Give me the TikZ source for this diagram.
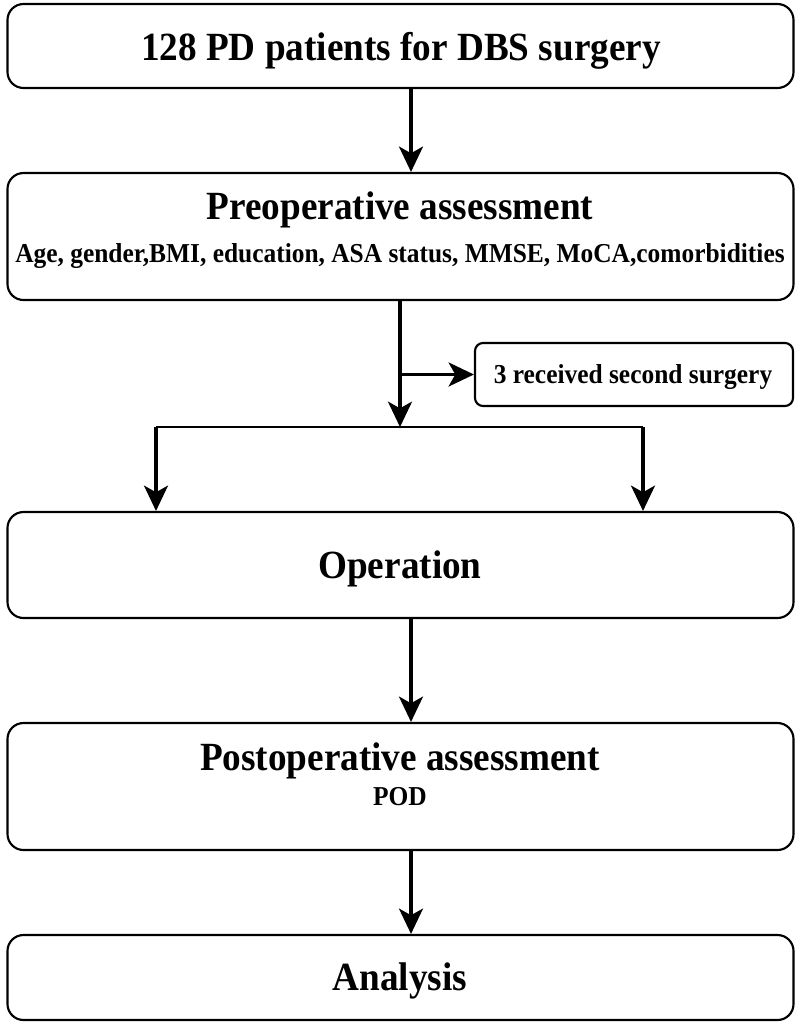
\documentclass[tikz,border=0pt]{standalone}
\usepackage{fontspec}
\setmainfont{Liberation Serif}[FakeStretch=0.93]
\usetikzlibrary{arrows.meta}
\tikzset{
  stepbox/.style={draw, line width=1.6pt, rounded corners=12pt, inner sep=0pt, minimum width=589.5pt},
  sidebox/.style={draw, line width=1.6pt, rounded corners=6pt, inner sep=0pt},
  ttl/.style={anchor=base, font=\fontsize{30}{36}\selectfont\bfseries},
  sub/.style={anchor=base, font=\fontsize{20.5}{24}\selectfont\bfseries},
  arr/.style={line width=2.4pt, -{Stealth[length=19pt, width=18pt, inset=5pt]}},
  ln/.style={line width=2.2pt}
}
\begin{document}
\begin{tikzpicture}[x=0.75pt, y=-0.75pt]
            \useasboundingbox (0,0) rectangle (800,1029);
            \coordinate (axis) at (411,0);
            \coordinate (mid) at (400,0);
            \node[stepbox, minimum height=63pt] (pd) at (400.5,46) {};
            \node[ttl] (pdtext) at (401,60) {128 PD patients for DBS surgery};
            \node[stepbox, minimum height=95.25pt] (preop) at (400.5,236.5) {};
            \node[ttl] (preoptitle) at (400,219) {Preoperative assessment};
            \node[sub] (preopsub) at (400,262) {Age, gender,BMI, education, ASA status, MMSE, MoCA,comorbidities};
            \node[sidebox, minimum width=238.5pt, minimum height=47.25pt] (second) at (634,374.5) {};
            \node[sub] (secondtext) at (633,383) {3 received second surgery};
            \node[stepbox, minimum height=79.5pt] (op) at (400.5,565) {};
            \node[ttl] (optext) at (400,578) {Operation};
            \node[stepbox, minimum height=95.25pt] (postop) at (400.5,786.5) {};
            \node[ttl] (postoptitle) at (400,770) {Postoperative assessment};
            \node[sub] (postopsub) at (400,805) {POD};
            \node[stepbox, minimum height=63.75pt] (ana) at (400.5,977.5) {};
            \node[ttl] (anatext) at (400,990) {Analysis};
            \coordinate (split) at (400,427);
            \coordinate (sl) at (156,427);
            \coordinate (sr) at (643,427);
            \draw[arr] (pd.south -| axis) -- (preop.north -| axis);
            \draw[arr] (preop.south -| mid) -- (split);
            \draw[arr] (mid |- second.west) -- (second.west);
            \draw[ln] (sl) -- (sr);
            \draw[arr] (sl) -- (sl |- op.north);
            \draw[arr] (sr) -- (sr |- op.north);
            \draw[arr] (op.south -| axis) -- (postop.north -| axis);
            \draw[arr] (postop.south -| axis) -- (ana.north -| axis);
        \end{tikzpicture}
\end{document}
